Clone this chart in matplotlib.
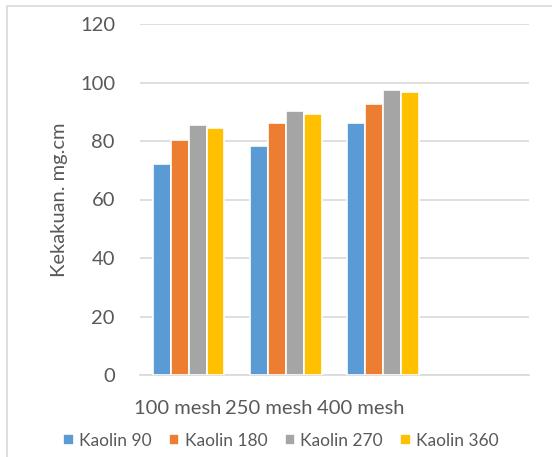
import matplotlib
matplotlib.use("Agg")
import matplotlib.pyplot as plt
import matplotlib.transforms as mtransforms
from matplotlib.patches import Rectangle
import numpy as np

plt.rcParams.update({
    "font.family": ["Lato", "DejaVu Sans"],
    "font.size": 14.5,
    "text.color": "#595959",
    "axes.labelcolor": "#595959",
    "xtick.color": "#595959",
    "ytick.color": "#595959",
})

# data
categories = ["100 mesh", "250 mesh", "400 mesh", ""]
series = ["Kaolin 90", "Kaolin 180", "Kaolin 270", "Kaolin 360"]
kaolin_90 = [72.3, 78.3, 86.1, np.nan]
kaolin_180 = [80.5, 86.3, 92.8, np.nan]
kaolin_270 = [85.3, 90.4, 97.5, np.nan]
kaolin_360 = [84.6, 89.4, 96.8, np.nan]
values = [kaolin_90, kaolin_180, kaolin_270, kaolin_360]
colors = ["#5B9BD5", "#ED7D31", "#A5A5A5", "#FFC000"]

GRID = "#D9D9D9"

fig = plt.figure(figsize=(5.52, 4.57), dpi=100)
ax = fig.add_axes([140 / 552, 82 / 457, 389 / 552, 351 / 457])

x = np.arange(len(categories))
w = 0.184
for i, (name, vals, c) in enumerate(zip(series, values, colors)):
    ax.bar(x + (i - 1.5) * w, vals, w, color=c, edgecolor="white",
           linewidth=1.2, label=name, zorder=3)

ax.set_xlim(-0.5, len(categories) - 0.5)
ax.set_ylim(0, 120)
ax.set_yticks(np.arange(0, 121, 20))
ax.grid(axis="y", color=GRID, linewidth=1.2, zorder=0)
for s in ["top", "right", "left"]:
    ax.spines[s].set_visible(False)
ax.spines["bottom"].set_color(GRID)
ax.spines["bottom"].set_linewidth(1.2)
ax.tick_params(axis="both", length=0)
ax.tick_params(axis="y", pad=18)
ax.tick_params(axis="x", pad=18)

ax.set_xticks(x)
ax.set_xticklabels(categories)
# labels in the reference sit a bit left of the group centres
for lbl, dx in zip(ax.get_xticklabels(), [-11, -17, -22, 0]):
    lbl.set_transform(lbl.get_transform() +
                      mtransforms.ScaledTranslation(dx / 100, 0, fig.dpi_scale_trans))

ax.set_ylabel("Kekakuan. mg.cm", fontsize=14.5)
ax.yaxis.set_label_coords(-0.185, 0.5)

ax.legend(loc="center", bbox_to_anchor=(281 / 552, 16 / 457),
          bbox_transform=fig.transFigure, ncol=4, frameon=False,
          fontsize=12.5, handlelength=0.6, handleheight=0.6,
          handletextpad=0.3, columnspacing=1.0)

# chart border (only left and top visible in the crop)
fig.patches.append(Rectangle((6.5 / 552, -0.1), 1.2, 1.1 - 6.5 / 457,
                             transform=fig.transFigure, fill=False,
                             edgecolor=GRID, linewidth=1.2))

fig.savefig("out.png", dpi=100, facecolor="white")
